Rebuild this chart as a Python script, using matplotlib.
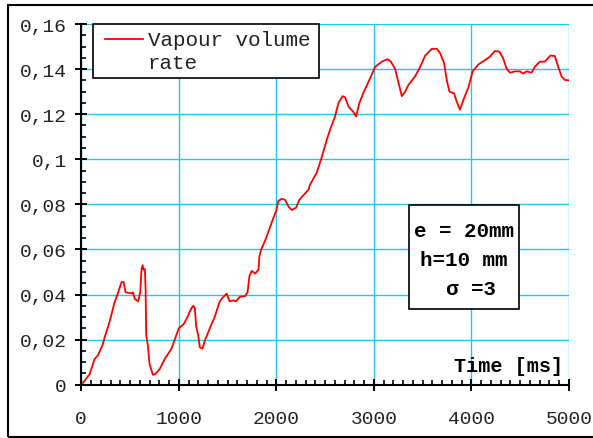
import matplotlib
matplotlib.use("Agg")
import matplotlib.pyplot as plt
from matplotlib.patches import Rectangle
from matplotlib.lines import Line2D
from matplotlib.ticker import MultipleLocator, FixedLocator, FixedFormatter

# time in ms, vapour volume rate
time_ms = [0, 35, 86, 137, 171, 222, 240, 291, 338, 379, 413, 434, 454, 516, 530,
           550, 584, 605, 618, 630, 638, 652, 660, 666, 683, 700, 735, 760, 805,
           856, 925, 975, 1000, 1052, 1089, 1122, 1147, 1165, 1178, 1200, 1216,
           1243, 1267, 1318, 1370, 1420, 1458, 1492, 1520, 1560, 1587, 1626,
           1680, 1705, 1725, 1748, 1783, 1817, 1827, 1845, 1886, 1937, 1970,
           1998, 2020, 2055, 2090, 2125, 2158, 2202, 2236, 2277, 2330, 2345,
           2414, 2466, 2517, 2550, 2602, 2637, 2680, 2705, 2740, 2790, 2818,
           2852, 2893, 2962, 3013, 3082, 3140, 3175, 3218, 3252, 3287, 3320,
           3355, 3423, 3475, 3526, 3595, 3646, 3680, 3720, 3748, 3775, 3822,
           3850, 3883, 3918, 3970, 4013, 4070, 4140, 4190, 4240, 4285, 4326,
           4360, 4395, 4447, 4497, 4532, 4566, 4617, 4650, 4702, 4752, 4810,
           4855, 4890, 4925, 4958, 5000]
vapour = [0, 0.0018, 0.0047, 0.0114, 0.013, 0.018, 0.021, 0.028, 0.036, 0.041,
          0.0455, 0.0456, 0.041, 0.0405, 0.041, 0.038, 0.037, 0.041, 0.0513,
          0.053, 0.051, 0.0513, 0.0425, 0.022, 0.0175, 0.0092, 0.0044, 0.0047,
          0.007, 0.0114, 0.016, 0.022, 0.025, 0.027, 0.030, 0.0333, 0.035,
          0.034, 0.026, 0.0217, 0.0166, 0.016, 0.0195, 0.025, 0.0303, 0.037,
          0.039, 0.0404, 0.037, 0.0374, 0.037, 0.039, 0.0393, 0.041, 0.0483,
          0.0505, 0.0493, 0.051, 0.057, 0.060, 0.064, 0.070, 0.074, 0.077,
          0.0815, 0.0825, 0.082, 0.079, 0.0775, 0.0785, 0.082, 0.084, 0.0865,
          0.0887, 0.094, 0.101, 0.1086, 0.113, 0.119, 0.125, 0.128, 0.1275,
          0.1234, 0.121, 0.119, 0.125, 0.1295, 0.136, 0.141, 0.1433, 0.1444,
          0.1433, 0.140, 0.134, 0.128, 0.130, 0.133, 0.1368, 0.141, 0.146,
          0.149, 0.149, 0.147, 0.1427, 0.135, 0.130, 0.1292, 0.1255, 0.122,
          0.1263, 0.132, 0.139, 0.142, 0.144, 0.1455, 0.148, 0.1478, 0.1448,
          0.1403, 0.1384, 0.139, 0.139, 0.138, 0.139, 0.1384, 0.141, 0.1433,
          0.1433, 0.146, 0.1458, 0.141, 0.1367, 0.1352, 0.135]

y_ticks = [0, 0.02, 0.04, 0.06, 0.08, 0.1, 0.12, 0.14, 0.16]
y_labels = ["0", "0,02", "0,04", "0,06", "0,08", "0,1", "0,12", "0,14", "0,16"]
x_ticks = [0, 1000, 2000, 3000, 4000, 5000]

mono = "Liberation Mono"
grid_col = "#1ec8f0"

fig = plt.figure(figsize=(5.93, 4.39), dpi=100)
ax = fig.add_axes([0.137, 0.1214, 0.8224, 0.8216])

ax.plot(time_ms, vapour, color="#ff0000", linewidth=1.3, zorder=3)

ax.set_xlim(0, 5000)
ax.set_ylim(0, 0.16)
ax.xaxis.set_major_locator(FixedLocator(x_ticks))
ax.xaxis.set_minor_locator(MultipleLocator(100))
ax.yaxis.set_major_locator(FixedLocator(y_ticks))
ax.yaxis.set_major_formatter(FixedFormatter(y_labels))
ax.yaxis.set_minor_locator(MultipleLocator(0.005))

ax.grid(True, which="major", color=grid_col, linewidth=1.0, zorder=0)
ax.set_axisbelow(True)
for s in ["top", "right"]:
    ax.spines[s].set_visible(False)
for s in ["left", "bottom"]:
    ax.spines[s].set_linewidth(1.5)
    ax.spines[s].set_zorder(4)

ax.tick_params(which="major", direction="inout", length=8.6, width=1.4,
               labelsize=14, labelcolor="#222222")
ax.tick_params(which="minor", direction="in", length=3.6, width=1.2)
ax.tick_params(axis="y", which="major", pad=6)
ax.tick_params(axis="x", which="major", pad=14)
for lab in ax.get_xticklabels() + ax.get_yticklabels():
    lab.set_fontfamily(mono)

# legend drawn by hand so the handle sits on the first text line
ax.add_patch(Rectangle((0.024, 0.850), 0.4634, 0.150, transform=ax.transAxes,
                       facecolor="white", edgecolor="black", linewidth=1.2,
                       zorder=5, clip_on=False))
ax.add_line(Line2D([0.0486, 0.1265], [0.958, 0.958], transform=ax.transAxes,
                   color="#ff0000", linewidth=1.3, zorder=6))
ax.text(0.1368, 0.958, "Vapour volume", transform=ax.transAxes, family=mono,
        fontsize=15, va="center", ha="left", zorder=6, color="#222222")
ax.text(0.1368, 0.894, "rate", transform=ax.transAxes, family=mono,
        fontsize=15, va="center", ha="left", zorder=6, color="#222222")

# parameter box
ax.add_patch(Rectangle((0.6718, 0.2099), 0.2255, 0.2883, transform=ax.transAxes,
                       facecolor="white", edgecolor="black", linewidth=1.2,
                       zorder=5))
ax.text(0.7846, 0.4289, "e = 20mm", transform=ax.transAxes, family=mono,
        fontsize=15, fontweight="bold", ha="center", va="center", zorder=6)
ax.text(0.7846, 0.3485, "h=10 mm", transform=ax.transAxes, family=mono,
        fontsize=15, fontweight="bold", ha="center", va="center", zorder=6)
ax.text(0.80, 0.268, "σ =3", transform=ax.transAxes, family=mono,
        fontsize=15, fontweight="bold", ha="center", va="center", zorder=6)

ax.text(0.9878, 0.0527, "Time [ms]", transform=ax.transAxes, family=mono,
        fontsize=14.5, fontweight="bold", ha="right", va="center", zorder=6)

# outer frame (right edge runs off the picture)
fig.add_artist(Rectangle((0.0135, 0.0034), 1.0, 0.983, transform=fig.transFigure,
                         facecolor="none", edgecolor="black", linewidth=1.5))

fig.savefig("out.png", dpi=100)
